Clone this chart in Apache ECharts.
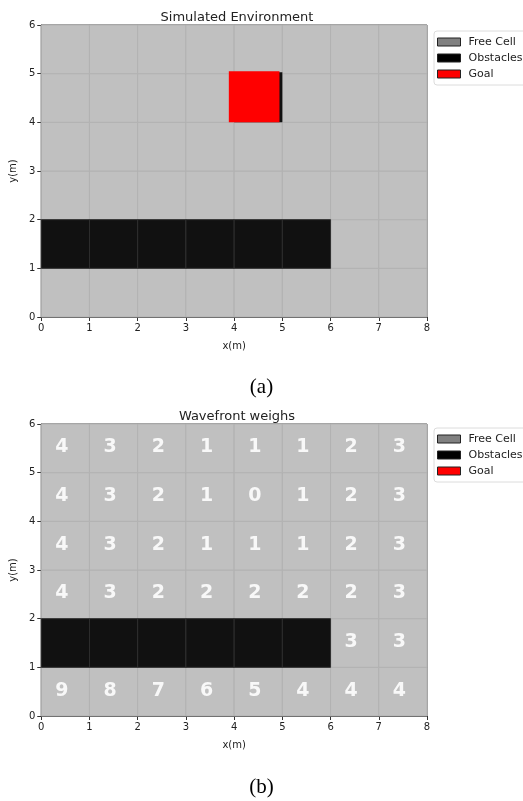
<!DOCTYPE html>
<html><head><meta charset="utf-8">
<script src="https://cdn.jsdelivr.net/npm/echarts@6/dist/echarts.min.js"></script>
<style>html,body{margin:0;padding:0;background:#fff}#c{width:523px;height:801px}</style>
</head><body><div id="c"></div>
<script>
// ---- data ----
const xTicks = [0,1,2,3,4,5,6,7,8];
const yTicks = [0,1,2,3,4,5,6];
const titles = ['Simulated Environment', 'Wavefront weighs'];
const captions = ['(a)', '(b)'];
const legendNames = ['Free Cell', 'Obstacles', 'Goal'];
// obstacle cells (lower-left corner of each 1x1 cell)
const obstacleCells = [[0,1],[1,1],[2,1],[3,1],[4,1],[5,1]];
// goal cell
const goalCells = [[4,4]];
// wavefront weights, rows from y=5 (top) down to y=0; null = obstacle
const weightRows = [
  [4,3,2,1,1,1,2,3],
  [4,3,2,1,0,1,2,3],
  [4,3,2,1,1,1,2,3],
  [4,3,2,2,2,2,2,3],
  [null,null,null,null,null,null,3,3],
  [9,8,7,6,5,4,4,4]
];

// ---- derived ----
const nCols = xTicks.length - 1, nRows = yTicks.length - 1;
const isObst = (x,y) => obstacleCells.some(c => c[0]===x && c[1]===y);
const freeCells = [];
for (let y=0; y<nRows; y++) for (let x=0; x<nCols; x++) if (!isObst(x,y)) freeCells.push([x,y]);
const weightData = [];
weightRows.forEach((row, r) => row.forEach((v, x) => { if (v !== null) weightData.push([x, nRows-1-r, v]); }));

const FONT = 'DejaVu Sans';
function cellRect(api, x0, y0, x1, y1) {
  const a = api.coord([x0, y1]), b = api.coord([x1, y0]);
  return {x: a[0], y: a[1], width: b[0]-a[0], height: b[1]-a[1]};
}
function freeRender(params, api) {
  const x = api.value(0), y = api.value(1);
  return {type:'rect', shape: cellRect(api, x, y, x+1, y+1),
    style:{fill:'#c0c0c0', stroke:'#b2b2b2', lineWidth:1}};
}
function obstRender(params, api) {
  const x = api.value(0), y = api.value(1);
  return {type:'rect', shape: cellRect(api, x, y, x+1, y+1),
    style:{fill:'#111111', stroke:'#2e2e2e', lineWidth:1}};
}
function goalRender(params, api) {
  const x = api.value(0), y = api.value(1);
  return {type:'group', children:[
    {type:'rect', shape: cellRect(api, x, y, x+1, y+1.03), style:{fill:'#111111'}},
    {type:'rect', shape: cellRect(api, x-0.11, y, x+0.94, y+1.05), style:{fill:'#ff0000'}}
  ]};
}
function weightRender(params, api) {
  const p = api.coord([api.value(0)+0.5, api.value(1)+0.5]);
  return {type:'text', x: p[0]-3.5, y: p[1]-1,
    style:{text: String(api.value(2)), fill:'#f8f8f8', font:'bold 19px "DejaVu Sans"',
      align:'center', verticalAlign:'middle'}};
}

const grids = [
  {left:38, top:25, width:389, height:292},
  {left:38, top:424, width:389, height:292}
];
function xAxis(i){ return {type:'value', gridIndex:i, min:xTicks[0], max:xTicks[xTicks.length-1], interval:1,
  name:'x(m)', nameLocation:'middle', nameGap:24, nameTextStyle:{fontFamily:FONT, fontSize:10, color:'#222'},
  axisLine:{show:true, lineStyle:{color:'#333'}}, axisTick:{show:true, length:4, lineStyle:{color:'#333'}},
  axisLabel:{fontFamily:FONT, fontSize:10, color:'#222', margin:6}, splitLine:{show:false}}; }
function yAxis(i){ return {type:'value', gridIndex:i, min:yTicks[0], max:yTicks[yTicks.length-1], interval:1,
  name:'y(m)', nameLocation:'middle', nameGap:21, nameTextStyle:{fontFamily:FONT, fontSize:10, color:'#222'},
  axisLine:{show:true, lineStyle:{color:'#333'}}, axisTick:{show:true, length:4, lineStyle:{color:'#333'}},
  axisLabel:{fontFamily:FONT, fontSize:10, color:'#222', margin:6}, splitLine:{show:false}}; }

function legend(top){ return {orient:'vertical', left:434, top:top, padding:[5,6,5,3],
  backgroundColor:'#fff', borderColor:'#dcdcdc', borderWidth:1, borderRadius:3,
  itemWidth:23, itemHeight:8, itemGap:4, selectedMode:false,
  textStyle:{fontFamily:FONT, fontSize:11, color:'#222', lineHeight:12, padding:[0,0,0,3]},
  data:[
    {name:legendNames[0], icon:'rect', itemStyle:{color:'#808080', borderColor:'#222', borderWidth:1}},
    {name:legendNames[1], icon:'rect', itemStyle:{color:'#000000', borderColor:'#222', borderWidth:1}},
    {name:legendNames[2], icon:'rect', itemStyle:{color:'#ff0000', borderColor:'#222', borderWidth:1}}
  ]}; }

const series = [];
[0,1].forEach(i => {
  series.push({type:'custom', name:legendNames[0], xAxisIndex:i, yAxisIndex:i, data:freeCells, renderItem:freeRender, itemStyle:{color:'#808080'}, z:1, silent:true});
  series.push({type:'custom', name:legendNames[1], xAxisIndex:i, yAxisIndex:i, data:obstacleCells, renderItem:obstRender, itemStyle:{color:'#000'}, z:2, silent:true});
});
series.push({type:'custom', name:legendNames[2], xAxisIndex:0, yAxisIndex:0, data:goalCells, renderItem:goalRender, itemStyle:{color:'#ff0000'}, z:3, silent:true});
series.push({type:'custom', name:'weights', xAxisIndex:1, yAxisIndex:1, data:weightData, renderItem:weightRender, z:4, silent:true});

const chart = echarts.init(document.getElementById('c'), null, {renderer:'canvas'});
chart.setOption({
  animation:false,
  backgroundColor:'#fff',
  title:[
    {text:titles[0], left:232, top:6, textAlign:'center', textStyle:{fontFamily:FONT, fontSize:13, fontWeight:'normal', color:'#222'}},
    {text:titles[1], left:232, top:405, textAlign:'center', textStyle:{fontFamily:FONT, fontSize:13, fontWeight:'normal', color:'#222'}}
  ],
  grid: grids.map(g => Object.assign({show:true, borderColor:'#333', borderWidth:1, backgroundColor:'#c0c0c0'}, g)),
  xAxis:[xAxis(0), xAxis(1)],
  yAxis:[yAxis(0), yAxis(1)],
  legend:[legend(31), legend(428)],
  series:series,
  graphic:[
    {type:'text', left:'center', top:377, style:{text:captions[0], font:'21px "Liberation Serif"', fill:'#000'}},
    {type:'text', left:'center', top:777, style:{text:captions[1], font:'21px "Liberation Serif"', fill:'#000'}}
  ]
});
</script></body></html>
